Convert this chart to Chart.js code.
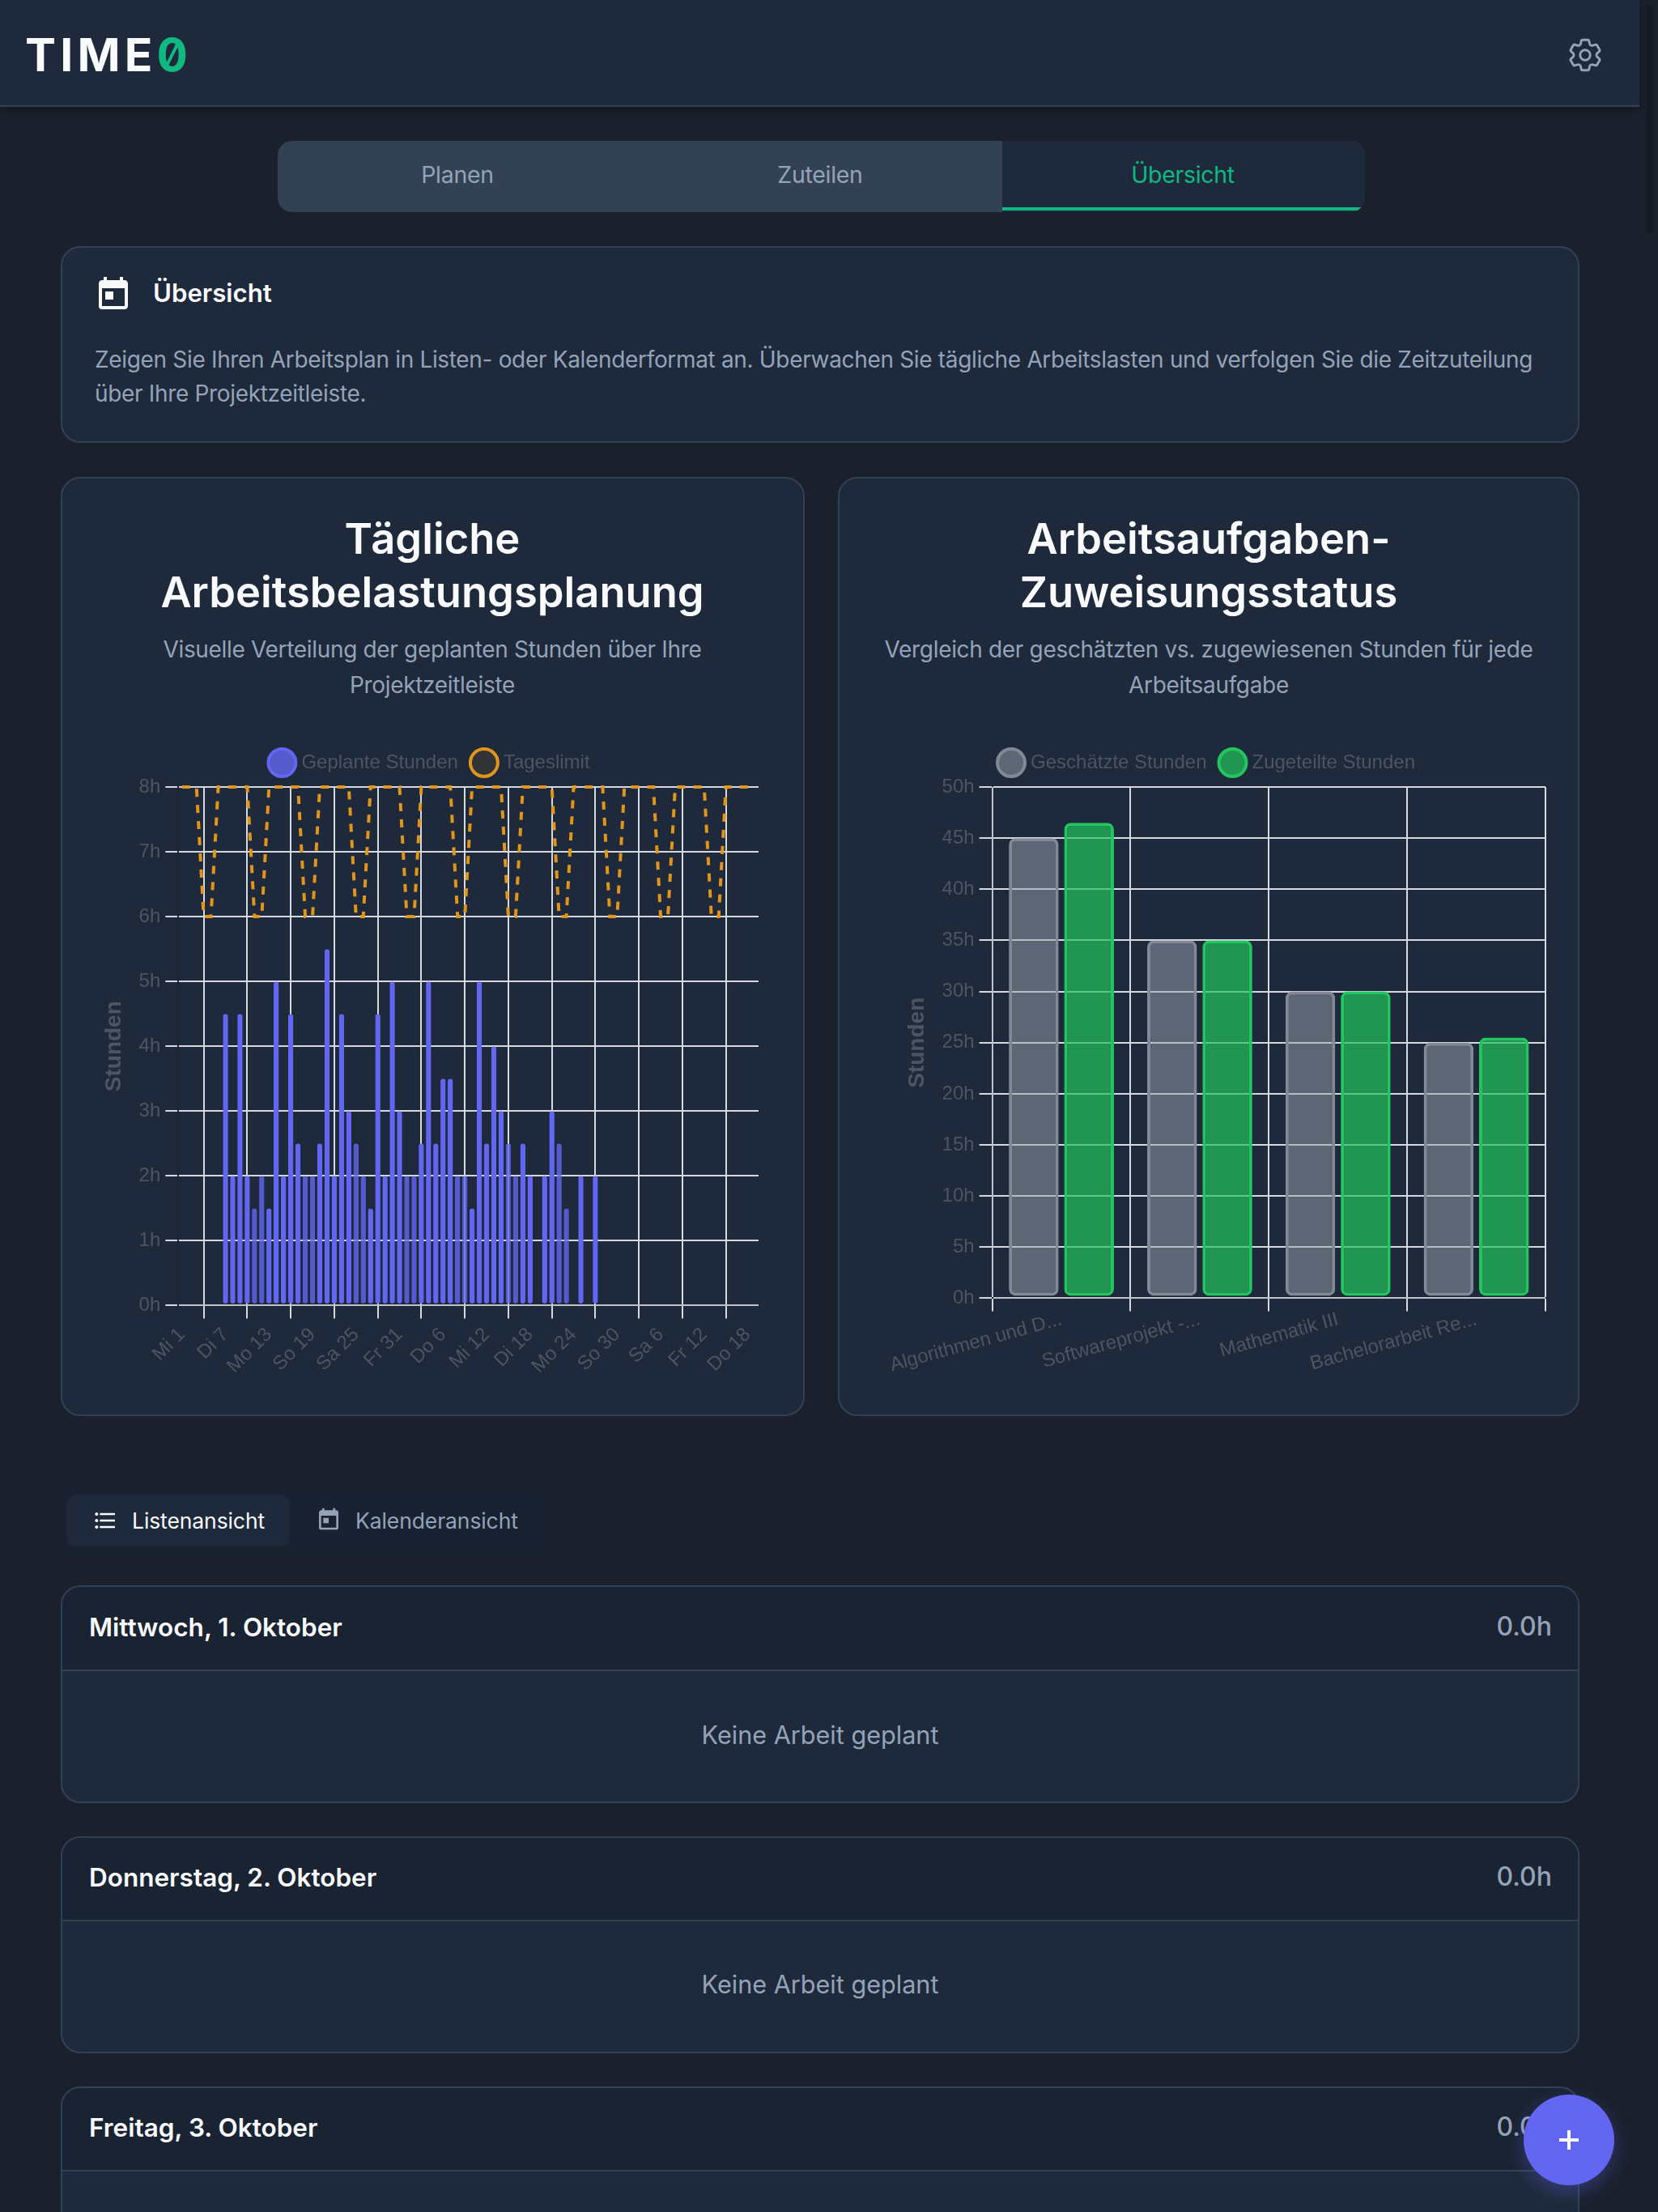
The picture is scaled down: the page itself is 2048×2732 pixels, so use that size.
<!DOCTYPE html>
<html lang="de"><head><meta charset="utf-8"><title>Time0</title>
<script src="https://cdn.jsdelivr.net/npm/chart.js@4"></script>
<style>
html,body{margin:0;padding:0;background:#1a202c;width:2048px;height:2732px;overflow:hidden;font-family:Inter,'Noto Sans',sans-serif}
.a{position:absolute;box-sizing:border-box}
.t{position:absolute;white-space:nowrap;line-height:1}
.c{transform:translateX(-50%);text-align:center}
.card{position:absolute;box-sizing:border-box;background:#1e293b;border:2px solid #334155;border-radius:24px;overflow:hidden}
.dh{position:absolute;left:0;right:0;top:0;background:#1a2332;border-bottom:2px solid #334155}
.body{font-size:28px;letter-spacing:-.33px;color:#94a3b8}
.tab{font-size:28.5px;letter-spacing:-.3px;top:202px}
.h{font-size:52.5px;font-weight:600;color:#f8fafc}
.dt{font-size:31.5px;font-weight:600;color:#f8fafc}
svg{position:absolute}
canvas{position:absolute}
</style></head><body>
<div class="a" style="left:0;top:0;width:2025px;height:132px;background:#1e293b;border-bottom:2px solid #334155;box-shadow:0 4px 8px rgba(0,0,0,.25)"></div>
<div class="a" style="left:2033px;top:6px;width:10px;height:283px;background:#151b25;border-radius:5px"></div>
<div class="t" style="left:31px;top:39px;font-size:57px;font-weight:700;letter-spacing:5.2px;color:#f8fafc">TIME<span style="color:#10b981;font-feature-settings:'zero' 1;font-family:Inter">0</span></div>
<svg style="left:1933px;top:43px" width="50" height="50" viewBox="0 0 24 24" fill="none" stroke="#94a3b8" stroke-width="1.4"><path d="M9.594 3.94c.09-.542.56-.94 1.11-.94h2.593c.55 0 1.02.398 1.11.94l.213 1.281c.063.374.313.686.645.87.074.04.147.083.22.127.325.196.72.257 1.075.124l1.217-.456a1.125 1.125 0 0 1 1.37.49l1.296 2.247a1.125 1.125 0 0 1-.26 1.431l-1.003.827c-.293.241-.438.613-.43.992a7.723 7.723 0 0 1 0 .255c-.008.378.137.75.43.991l1.004.827c.424.35.534.955.26 1.43l-1.298 2.247a1.125 1.125 0 0 1-1.369.491l-1.217-.456c-.355-.133-.75-.072-1.076.124a6.47 6.47 0 0 1-.22.128c-.331.183-.581.495-.644.869l-.213 1.281c-.09.543-.56.94-1.11.94h-2.594c-.55 0-1.019-.398-1.11-.94l-.213-1.281c-.062-.374-.312-.686-.644-.87a6.52 6.52 0 0 1-.22-.127c-.325-.196-.72-.257-1.076-.124l-1.217.456a1.125 1.125 0 0 1-1.369-.49l-1.297-2.247a1.125 1.125 0 0 1 .26-1.431l1.004-.827c.292-.24.437-.613.43-.991a6.932 6.932 0 0 1 0-.255c.007-.38-.138-.751-.43-.992l-1.004-.827a1.125 1.125 0 0 1-.26-1.43l1.297-2.247a1.125 1.125 0 0 1 1.37-.491l1.216.456c.356.133.751.072 1.076-.124.072-.044.146-.086.22-.128.332-.183.582-.495.644-.869l.214-1.28Z"/><circle cx="12" cy="12" r="3"/></svg>

<div class="a" style="left:343px;top:174px;width:1343px;height:88px;background:#334155;border-radius:18px;overflow:hidden">
 <div class="a" style="left:895px;top:0;width:448px;height:88px;background:#1e293b;"></div>
 <div class="a" style="left:895px;top:82px;width:448px;height:4px;background:#10b981;"></div>
</div>
<div class="t c tab" style="left:565px;color:#94a3b8">Planen</div>
<div class="t c tab" style="left:1013px;color:#94a3b8">Zuteilen</div>
<div class="t c tab" style="left:1461px;color:#10b981">Übersicht</div>

<div class="card" style="left:75px;top:304px;width:1876px;height:243px"></div>
<svg style="left:116px;top:338px" width="48" height="48" viewBox="0 0 24 24" fill="#f8fafc"><path d="M19 4h-1V2h-2v2H8V2H6v2H5c-1.11 0-1.99.9-1.99 2L3 20a2 2 0 0 0 2 2h14c1.1 0 2-.9 2-2V6c0-1.1-.9-2-2-2zm0 16H5V9h14v11zM7 11h5v5H7z"/></svg>
<div class="t" style="left:189px;top:347px;font-size:31.2px;font-weight:600;color:#f8fafc">Übersicht</div>
<div class="t body" style="left:117px;top:430px">Zeigen Sie Ihren Arbeitsplan in Listen- oder Kalenderformat an. Überwachen Sie tägliche Arbeitslasten und verfolgen Sie die Zeitzuteilung</div>
<div class="t body" style="left:117px;top:472px">über Ihre Projektzeitleiste.</div>

<div class="card" style="left:75px;top:589px;width:919px;height:1160px"></div>
<div class="card" style="left:1035px;top:589px;width:916px;height:1160px"></div>
<div class="t c h" style="left:534px;top:639px">Tägliche</div>
<div class="t c h" style="left:534px;top:705px">Arbeitsbelastungsplanung</div>
<div class="t c body" style="left:534px;top:788px">Visuelle Verteilung der geplanten Stunden über Ihre</div>
<div class="t c body" style="left:534px;top:832px">Projektzeitleiste</div>
<div class="t c h" style="left:1493px;top:639px">Arbeitsaufgaben-</div>
<div class="t c h" style="left:1493px;top:705px">Zuweisungsstatus</div>
<div class="t c body" style="left:1493px;top:788px">Vergleich der geschätzten vs. zugewiesenen Stunden für jede</div>
<div class="t c body" style="left:1493px;top:832px">Arbeitsaufgabe</div>

<canvas id="workload" style="left:109px;top:910px;width:850px;height:798px" width="850" height="798"></canvas>
<canvas id="tasks" style="left:1079px;top:910px;width:838px;height:787px" width="838" height="787"></canvas>

<div class="a" style="left:75px;top:1839px;width:604px;height:79px;background:#192231;border-radius:16px"></div>
<div class="a" style="left:83px;top:1846px;width:274px;height:64px;background:#1e293b;border-radius:12px"></div>
<svg style="left:114px;top:1862px" width="32" height="32" viewBox="0 0 24 24" fill="#f8fafc"><path d="M4 10.5c-.83 0-1.5.67-1.5 1.5s.67 1.500 1.500 1.500 1.500-.67 1.500-1.500-.67-1.500-1.500-1.500zm0-6c-.83 0-1.500.67-1.500 1.500S3.170 7.500 4 7.500 5.500 6.830 5.500 6 4.830 4.500 4 4.500zm0 12c-.83 0-1.500.68-1.500 1.500s.68 1.500 1.500 1.500 1.500-.68 1.500-1.500-.67-1.500-1.500-1.500zM7 19h14v-2H7v2zm0-6h14v-2H7v2zm0-8v2h14V5H7z"/></svg>
<div class="t" style="left:163px;top:1865px;font-size:26.5px;letter-spacing:-.1px;color:#f8fafc">Listenansicht</div>
<svg style="left:390px;top:1860px" width="32" height="32" viewBox="0 0 24 24" fill="#94a3b8"><path d="M19 4h-1V2h-2v2H8V2H6v2H5c-1.11 0-1.99.9-1.99 2L3 20a2 2 0 0 0 2 2h14c1.1 0 2-.9 2-2V6c0-1.1-.9-2-2-2zm0 16H5V9h14v11zM7 11h5v5H7z"/></svg>
<div class="t" style="left:439px;top:1865px;font-size:26.5px;letter-spacing:-.1px;color:#94a3b8">Kalenderansicht</div>

<div class="card" style="left:75px;top:1958px;width:1876px;height:269px"><div class="dh" style="height:102px"></div></div>
<div class="t dt" style="left:110px;top:1994px">Mittwoch, 1. Oktober</div>
<div class="t" style="right:131px;top:1993px;font-size:32px;font-weight:500;color:#94a3b8">0.0h</div>
<div class="t c" style="left:1013px;top:2128px;font-size:30.6px;color:#94a3b8">Keine Arbeit geplant</div>
<div class="card" style="left:75px;top:2268px;width:1876px;height:268px"><div class="dh" style="height:101px"></div></div>
<div class="t dt" style="left:110px;top:2303px">Donnerstag, 2. Oktober</div>
<div class="t" style="right:131px;top:2302px;font-size:32px;font-weight:500;color:#94a3b8">0.0h</div>
<div class="t c" style="left:1013px;top:2436px;font-size:30.6px;color:#94a3b8">Keine Arbeit geplant</div>
<div class="card" style="left:75px;top:2577px;width:1876px;height:268px"><div class="dh" style="height:101px"></div></div>
<div class="t dt" style="left:110px;top:2612px">Freitag, 3. Oktober</div>
<div class="t" style="right:131px;top:2611px;font-size:32px;font-weight:500;color:#94a3b8">0.0h</div>
<div class="a" style="left:1882px;top:2587px;width:112px;height:112px;border-radius:50%;background:#6366f1;box-shadow:0 8px 24px rgba(99,102,241,.35)"></div>
<svg style="left:1922px;top:2627px" width="32" height="32" viewBox="0 0 32 32" fill="#fff"><rect x="4" y="14" width="24" height="4"/><rect x="14" y="4" width="4" height="24"/></svg>

<script>
const dayLabels = ["Mi 1","Do 2","Fr 3","Sa 4","So 5","Mo 6","Di 7","Mi 8","Do 9","Fr 10","Sa 11","So 12","Mo 13","Di 14","Mi 15","Do 16","Fr 17","Sa 18","So 19","Mo 20","Di 21","Mi 22","Do 23","Fr 24","Sa 25","So 26","Mo 27","Di 28","Mi 29","Do 30","Fr 31",
"Sa 1","So 2","Mo 3","Di 4","Mi 5","Do 6","Fr 7","Sa 8","So 9","Mo 10","Di 11","Mi 12","Do 13","Fr 14","Sa 15","So 16","Mo 17","Di 18","Mi 19","Do 20","Fr 21","Sa 22","So 23","Mo 24","Di 25","Mi 26","Do 27","Fr 28","Sa 29","So 30",
"Mo 1","Di 2","Mi 3","Do 4","Fr 5","Sa 6","So 7","Mo 8","Di 9","Mi 10","Do 11","Fr 12","Sa 13","So 14","Mo 15","Di 16","Mi 17","Do 18","Fr 19"];
const plannedHours = [null,null,null,null,null,null,4.5,2,4.5,2,1.5,2,1.5,5,2,4.5,2.5,2,2,2.5,5.5,2,4.5,3,2.5,2,1.5,4.5,2,5,3,
2,2,2.5,5,2.5,3.5,3.5,2,2,1.5,5,2.5,4,3,2.5,2,2.5,2,null,2,3,2.5,1.5,null,2,null,2,null,null,null,
null,null,null,null,null,null,null,null,null,null,null,null,null,null,null,null,null,null,null];
const dailyLimit = [8,8,8,6,6,8,8,8,8,8,6,6,8,8,8,8,8,6,6,8,8,8,8,8,6,6,8,8,8,8,8,
6,6,8,8,8,8,8,6,6,8,8,8,8,8,6,6,8,8,8,8,8,6,6,8,8,8,8,8,6,6,
8,8,8,8,8,6,6,8,8,8,8,8,6,6,8,8,8,8,8];
const weekendFlags = dayLabels.map(l => l.startsWith("Sa") || l.startsWith("So"));

const taskLabels = ["Algorithmen und D...","Softwareprojekt -...","Mathematik III","Bachelorarbeit Re..."];
const estimatedHours = [45,35,30,25];
const allocatedHours = [46.5,35,30,25.5];

const FONT = "'Liberation Sans'";
const MUTED = "#4b5563";
const GRID = "#d5d8dd";
const common = (titleText) => ({
  responsive:false, animation:false, devicePixelRatio:1,
  layout:{padding:0},
  plugins:{
    legend:{position:"top",labels:{usePointStyle:true,color:MUTED,padding:20,font:{family:FONT,size:24}}},
    tooltip:{enabled:false}
  },
  scales:{
    x:{
      grid:{color:GRID,lineWidth:2,tickLength:16},
      border:{width:2,color:"rgba(0,0,0,0.1)"},
      ticks:{color:MUTED,padding:6,font:{family:FONT,size:24}}
    },
    y:{
      beginAtZero:true,
      grid:{color:GRID,lineWidth:2,tickLength:16},
      border:{width:2,color:"rgba(0,0,0,0.1)"},
      title:{display:true,text:titleText,color:MUTED,padding:8,font:{family:FONT,size:28,weight:"bold"}},
      ticks:{color:MUTED,padding:6,font:{family:FONT,size:24}}
    }
  }
});
const legendTuning = (extraHeight, shiftX) => ({
  id:"legendTuning",
  beforeInit(chart){
    const fit = chart.legend.fit;
    chart.legend.fit = function(){ fit.call(this); this.height += extraHeight; };
  },
  afterLayout(chart){ chart.legend.left += shiftX; chart.legend.right += shiftX; }
});

const o1 = common("Stunden");
o1.layout.padding = {left:7,right:22};
o1.scales.x.ticks.minRotation = 45;
o1.scales.x.ticks.maxRotation = 45;
o1.scales.y.min = 0; o1.scales.y.max = 8;
o1.scales.y.ticks.stepSize = 1;
o1.scales.y.ticks.callback = v => v + "h";
new Chart(document.getElementById("workload"),{
  type:"bar",
  plugins:[legendTuning(8,6)],
  data:{labels:dayLabels,datasets:[
    {label:"Geplante Stunden",data:plannedHours,base:0.03,
     backgroundColor:weekendFlags.map(w=>w?"rgba(99,102,241,0.7)":"rgba(99,102,241,0.8)"),
     borderColor:weekendFlags.map(w=>w?"rgba(99,102,241,0.8)":"#6366f1"),
     borderWidth:4,borderRadius:8,borderSkipped:false},
    {label:"Tageslimit",type:"line",data:dailyLimit,borderColor:"#e0951b",backgroundColor:"rgba(245,158,11,0.1)",
     borderWidth:4,borderDash:[10,10],pointRadius:0,tension:0,fill:false,clip:false}
  ]},
  options:o1
});

const o2 = common("Stunden");
o2.layout.padding = {left:29,right:8};
o2.scales.x.ticks.minRotation = 15.3;
o2.scales.x.ticks.maxRotation = 15.3;
o2.scales.x.ticks.padding = -4;
o2.scales.x.afterFit = s => { s.paddingLeft = 0; };
o2.scales.y.min = 0; o2.scales.y.max = 50;
o2.scales.y.ticks.stepSize = 5;
o2.scales.y.ticks.callback = v => v + "h";
new Chart(document.getElementById("tasks"),{
  type:"bar",
  plugins:[legendTuning(8,-16)],
  data:{labels:taskLabels,datasets:[
    {label:"Geschätzte Stunden",data:estimatedHours,base:0.24,backgroundColor:"rgba(156,163,175,0.5)",borderColor:"#828896",borderWidth:4,borderRadius:8,borderSkipped:false},
    {label:"Zugeteilte Stunden",data:allocatedHours,base:0.24,backgroundColor:"rgba(34,197,94,0.7)",borderColor:"#22c55e",borderWidth:4,borderRadius:8,borderSkipped:false}
  ]},
  options:o2
});
</script>
</body></html>
